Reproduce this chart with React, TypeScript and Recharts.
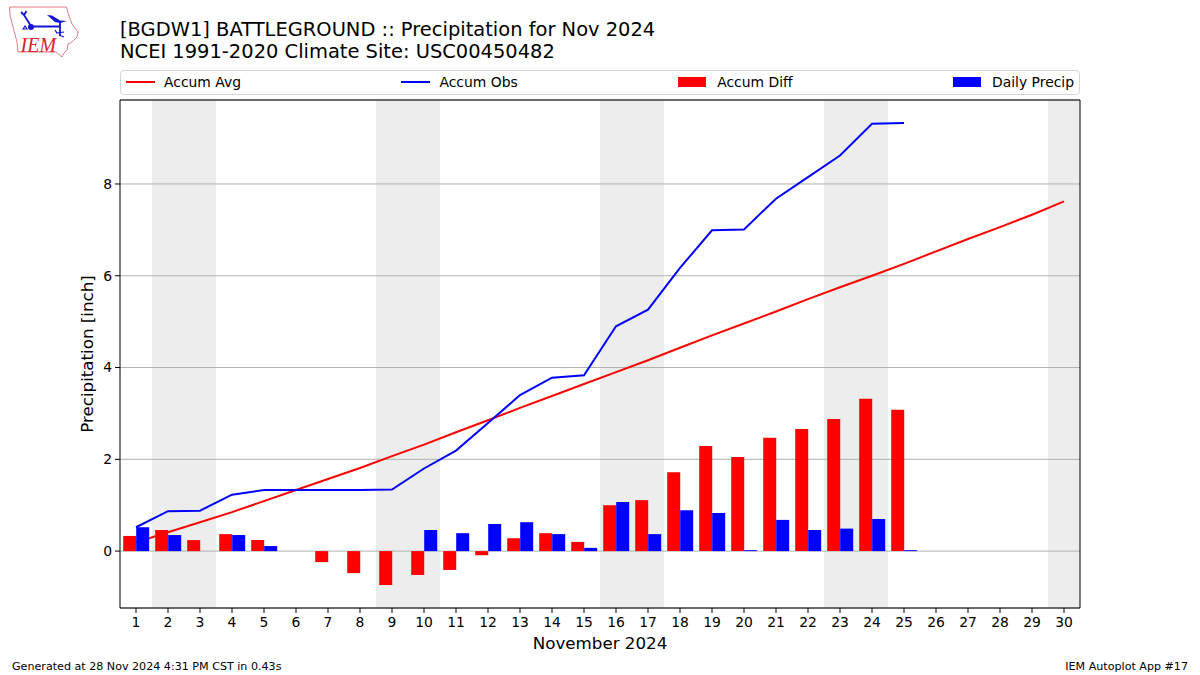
import React from "react";
import {
  Bar,
  CartesianGrid,
  ComposedChart,
  Legend,
  Line,
  ReferenceArea,
  XAxis,
  YAxis,
} from "recharts";

const days = [
  1, 2, 3, 4, 5, 6, 7, 8, 9, 10, 11, 12, 13, 14, 15, 16, 17, 18, 19, 20, 21, 22,
  23, 24, 25, 26, 27, 28, 29, 30,
];
const accumAvg = [
  0.19, 0.41, 0.63, 0.85, 1.09, 1.33, 1.57, 1.81, 2.07, 2.32, 2.59, 2.85, 3.12,
  3.38, 3.64, 3.9, 4.16, 4.43, 4.7, 4.96, 5.22, 5.49, 5.75, 6.0, 6.26, 6.53,
  6.8, 7.06, 7.33, 7.62,
];
const accumObs = [
  0.52, 0.87, 0.88, 1.23, 1.33, 1.33, 1.33, 1.33, 1.34, 1.8, 2.19, 2.79, 3.4,
  3.78, 3.83, 4.9, 5.26, 6.17, 6.99, 7.01, 7.68, 8.15, 8.62, 9.31, 9.33,
];
const accumDiff = [
  0.33, 0.46, 0.24, 0.37, 0.24, 0, -0.24, -0.48, -0.74, -0.52, -0.41, -0.09,
  0.28, 0.39, 0.2, 1.0, 1.11, 1.72, 2.29, 2.05, 2.47, 2.66, 2.88, 3.32, 3.08,
];
const dailyPrecip = [
  0.52, 0.35, 0, 0.35, 0.11, 0, 0, 0, 0, 0.46, 0.39, 0.59, 0.63, 0.37, 0.07,
  1.07, 0.37, 0.89, 0.83, 0.02, 0.68, 0.46, 0.49, 0.7, 0.02,
];
const weekends = [
  [2, 3],
  [9, 10],
  [16, 17],
  [23, 24],
  [30, 30],
];
const yTicks = [0, 2, 4, 6, 8];
const legendOrder = ["Accum Avg", "Accum Obs", "Accum Diff", "Daily Precip"];

const chartData = days.map((day, i) => ({
  day,
  avg: accumAvg[i],
  obs: accumObs[i] ?? null,
  diff: accumDiff[i] ?? null,
  precip: dailyPrecip[i] ?? null,
}));

const font = "'DejaVu Sans', sans-serif";

const LegendBox = ({ payload }: any) => (
  <div
    style={{
      boxSizing: "border-box",
      width: 960,
      height: 25,
      border: "1px solid #d5d5d5",
      borderRadius: 4,
      display: "flex",
      justifyContent: "space-between",
      alignItems: "center",
      padding: "0 5px",
      fontFamily: font,
      fontSize: 13.9,
      color: "#000",
      background: "#fff",
    }}
  >
    {(payload ?? []).map((item: any) => (
      <div key={item.value} style={{ display: "flex", alignItems: "center" }}>
        {item.type === "rect" ? (
          <span style={{ width: 28, height: 10, marginTop: -1, background: item.color }} />
        ) : (
          <span style={{ width: 29, height: 2, marginTop: -1, background: item.color }} />
        )}
        <span style={{ marginLeft: item.type === "rect" ? 11 : 9, marginTop: -2 }}>{item.value}</span>
      </div>
    ))}
  </div>
);

const Logo = () => (
  <svg
    width={90}
    height={62}
    style={{ position: "absolute", left: 0, top: 0 }}
  >
    <path
      d="M9.5 7 L66.5 7 L68 13 L72 24 L78 32 L77 37 L72 42 L68 44 L67 50 L64 53 L62 57 L56 52 L18 52 L17 42 L13 27 L10 15 Z"
      fill="none"
      stroke="#e07f85"
      strokeWidth={1}
    />
    <path d="M31 26.5 L60 26.5 M60 21 L60 36 M24 15 L31 26 M21 12 L24 15 L26.5 11" stroke="#1414d8" strokeWidth={1.8} fill="none" />
    <path d="M47 15 L52 15.5 L60 20.5 L67 21 L60 23 L55 22 Z" fill="#1414d8" />
    <circle cx={31} cy={27} r={3} fill="#1414d8" />
    <path d="M23 29 L25 26 L27 29 Z M55 30 L57 33 L64 32 M59 35 L64 37" stroke="#1414d8" strokeWidth={1.2} fill="none" />
    <text
      x={20.5}
      y={51.5}
      fontFamily="'Liberation Serif', serif"
      fontStyle="italic"
      fontSize={20}
      fill="#d8242c"
    >
      IEM
    </text>
  </svg>
);

export default function App() {
  return (
    <div
      style={{
        position: "absolute",
        left: 0,
        top: 0,
        width: 1200,
        height: 675,
        background: "#fff",
        fontFamily: font,
        color: "#000",
      }}
    >
      <Logo />
      <div style={{ position: "absolute", left: 120, top: 18.5, fontSize: 19.47, lineHeight: "22px", whiteSpace: "pre" }}>
        {"[BGDW1] BATTLEGROUND :: Precipitation for Nov 2024\nNCEI 1991-2020 Climate Site: USC00450482"}
      </div>
      <ComposedChart
        width={1200}
        height={675}
        data={chartData}
        margin={{ top: 99, right: 119, bottom: 27, left: 80 }}
        barGap={0}
        barCategoryGap="10%"
      >
        {weekends.map(([from, to]) => (
          <ReferenceArea
            key={from}
            x1={from}
            x2={to}
            fill="#ededed"
            fillOpacity={1}
            stroke="none"
            zIndex={-200}
          />
        ))}
        <CartesianGrid vertical={false} stroke="#b0b0b0" strokeWidth={1} />
        <XAxis
          dataKey="day"
          interval={0}
          stroke="#000"
          height={40}
          tickSize={5}
          tickMargin={4}
          tick={{ fontSize: 13.9, fill: "#000", fontFamily: font }}
          label={{
            value: "November 2024",
            position: "insideBottom",
            offset: -1,
            fontSize: 16.7,
            fill: "#000",
            fontFamily: font,
          }}
        />
        <XAxis xAxisId="top" dataKey="day" orientation="top" height={1} tick={false} tickLine={false} stroke="#000" />
        <YAxis
          width={40}
          domain={[-1.24, 9.83]}
          ticks={yTicks}
          allowDataOverflow
          stroke="#000"
          tickSize={5}
          tickMargin={3}
          tick={{ fontSize: 13.9, fill: "#000", fontFamily: font }}
          label={{
            value: "Precipitation [inch]",
            angle: -90,
            position: "insideLeft",
            offset: 0,
            dx: 7,
            style: { textAnchor: "middle" },
            fontSize: 16.7,
            fill: "#000",
            fontFamily: font,
          }}
        />
        <YAxis yAxisId="right" orientation="right" width={1} tick={false} tickLine={false} stroke="#000" />
        <Line name="Accum Avg" dataKey="avg" stroke="#ff0000" strokeWidth={2} dot={false} isAnimationActive={false} zIndex={200} />
        <Line name="Accum Obs" dataKey="obs" stroke="#0000ff" strokeWidth={2} dot={false} isAnimationActive={false} zIndex={200} />
        <Bar name="Accum Diff" dataKey="diff" fill="#ff0000" isAnimationActive={false} />
        <Bar name="Daily Precip" dataKey="precip" fill="#0000ff" isAnimationActive={false} />
        <Legend
          layout="horizontal"
          verticalAlign="middle"
          align="center"
          itemSorter={(item: any) => legendOrder.indexOf(item.value)}
          content={<LegendBox />}
          wrapperStyle={{ position: "absolute", left: 120, top: 70, width: 960, height: 25 }}
        />
      </ComposedChart>
      <div style={{ position: "absolute", left: 12, top: 660, fontSize: 11.12 }}>
        Generated at 28 Nov 2024 4:31 PM CST in 0.43s
      </div>
      <div style={{ position: "absolute", right: 12, top: 660, fontSize: 11.12 }}>
        IEM Autoplot App #17
      </div>
    </div>
  );
}
